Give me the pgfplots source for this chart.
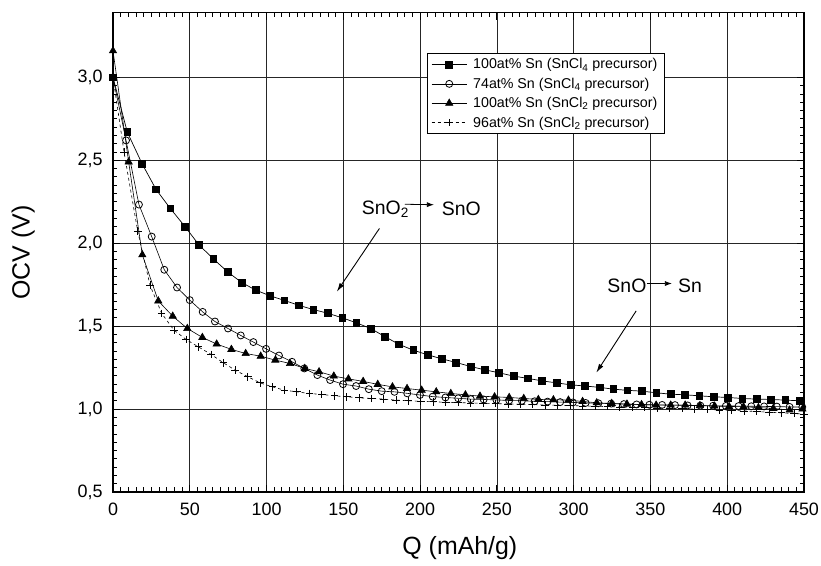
\documentclass[border=0pt]{standalone}
\usepackage{fontspec}
\setmainfont{Liberation Sans}
\usepackage{pgfplots}
\pgfplotsset{compat=1.18}
\usetikzlibrary{arrows.meta}

\begin{document}
\begin{tikzpicture}
\begin{axis}[
  scale only axis,
  width=691bp, height=479.3bp,
  xmin=0, xmax=450, ymin=0.5, ymax=3.39,
  xtick={0,50,...,450},
  ytick={0.5,1.0,...,3.0},
  minor x tick num=9,
  minor y tick num=9,
  tick align=inside,
  major tick length=7bp,
  minor tick length=4.5bp,
  tick style={black, line width=1.1bp},
  minor tick style={black, line width=0.9bp},
  xtick pos=both, ytick pos=both,
  axis line style={black, line width=1.6bp},
  grid=major,
  major grid style={black!85, line width=0.6bp},
  /pgf/number format/assume math mode=true,
  yticklabel style={/pgf/number format/use comma, /pgf/number format/fixed, /pgf/number format/fixed zerofill, /pgf/number format/precision=1, xshift=-7bp},
  ticklabel style={font=\fontsize{18}{20}\selectfont},
  xticklabel style={yshift=-7bp},
  xlabel={Q (mAh/g)},
  ylabel={OCV (V)},
  label style={font=\fontsize{25}{28}\selectfont},
  xlabel style={at={(axis description cs:0.502,-0.117)}, anchor=center},
  ylabel style={at={(axis description cs:-0.130,0.5)}, anchor=center},
  legend style={at={(axis description cs:0.454,0.916)}, anchor=north west,
    draw=black, line width=1.2bp, fill=white,
    font=\fontsize{14.3}{16}\selectfont, row sep=3.6bp, column sep=3bp,
    inner xsep=4bp, inner ysep=3bp,
    nodes={inner xsep=3bp}},
  legend cell align=left,
  legend image code/.code={%
    \draw[mark repeat=2,mark phase=2] plot coordinates {(0.05cm,0cm) (0.67cm,0cm) (1.29cm,0cm)};},
]
\addplot[black, line width=0.7bp, mark=square*, mark size=3.4bp, mark options={solid, fill=black}] coordinates {
(0,3.00) (9.3,2.67) (18.9,2.48) (28,2.325) (37.3,2.21) (46.9,2.10) (56,1.99) (65.4,1.905)
(74.7,1.827) (83.8,1.763) (93,1.717) (102.3,1.683) (111.6,1.655) (121.2,1.625) (130.5,1.60)
(139.8,1.578) (149.4,1.55) (158.5,1.52) (167.8,1.486) (177.2,1.436) (186.3,1.39) (195.6,1.355)
(205,1.327) (214.1,1.303) (223.4,1.281) (232.8,1.257) (241.9,1.237) (251.3,1.219) (260.8,1.199)
(270.2,1.185) (279.5,1.17) (288.8,1.158) (298.2,1.146) (307.5,1.139) (316.8,1.131) (325.9,1.12)
(335,1.113) (344.6,1.108) (353.9,1.098) (363.1,1.09) (372.4,1.086) (381.8,1.08) (391.1,1.074)
(400.4,1.07) (409.8,1.064) (419.3,1.06) (428.5,1.058) (437.8,1.054) (447.1,1.05)
};
\addlegendentry{100at\% Sn (SnCl\textsubscript{4} precursor)}
\addplot[black, line width=0.6bp, mark=o, mark size=3.5bp, mark options={solid, fill=white, line width=0.8bp}] coordinates {
(0,3.00) (8.5,2.62) (16.9,2.233) (25.2,2.04) (33.4,1.84) (41.7,1.733) (50,1.657) (58.4,1.586)
(66.4,1.528) (74.9,1.486) (83.2,1.444) (91.4,1.404) (99.7,1.363) (108.1,1.323) (116.6,1.285)
(124.6,1.245) (133.1,1.205) (141.4,1.175) (149.8,1.15) (158.3,1.139) (166.6,1.12) (175,1.108)
(183.3,1.104) (191.6,1.095) (199.9,1.085) (208.2,1.075) (216.5,1.07) (224.8,1.065) (233,1.06)
(241.4,1.058) (249.7,1.055) (258,1.052) (266.3,1.05) (274.6,1.047) (283,1.045) (291.2,1.042)
(299.5,1.04) (307.8,1.037) (316.1,1.035) (324.4,1.033) (332.7,1.03) (341,1.028) (349.3,1.026)
(357.6,1.025) (366,1.024) (374.2,1.022) (382.5,1.021) (390.8,1.02) (399.1,1.019) (407.4,1.018)
(415.7,1.017) (424,1.016) (432.3,1.015) (440.6,1.013) (448.9,1.012)
};
\addlegendentry{74at\% Sn (SnCl\textsubscript{4} precursor)}
\addplot[black, line width=0.6bp, mark=triangle*, mark size=4.2bp, mark options={solid, fill=black}] coordinates {
(0,3.16) (10.2,2.49) (19.1,1.93) (29.5,1.652) (38.9,1.56) (48.4,1.486) (58.2,1.432) (67.5,1.392)
(77.1,1.36) (86.4,1.335) (96.2,1.319) (105.7,1.295) (115.3,1.275) (124.9,1.245) (134.2,1.225)
(143.8,1.199) (153.3,1.182) (162.9,1.167) (172.4,1.149) (182,1.134) (191.5,1.124) (201,1.114)
(210.5,1.104) (220,1.094) (229.5,1.086) (239,1.078) (248.5,1.074) (258,1.07) (267.5,1.064)
(277,1.058) (286.8,1.056) (296.6,1.054) (305.8,1.046) (315,1.038) (324.8,1.034) (334.7,1.03)
(344.2,1.027) (353.7,1.024) (363.2,1.024) (372.6,1.024) (382.2,1.021) (391.7,1.018) (401.2,1.016)
(410.6,1.014) (420.3,1.009) (430,1.004) (440.6,0.994) (449,1.00)
};
\addlegendentry{100at\% Sn (SnCl\textsubscript{2} precursor)}
\addplot[black, line width=0.6bp, dashed, mark=+, mark size=3.8bp, mark options={solid, line width=0.8bp}] coordinates {
(0,3.00) (7.2,2.55) (16.1,2.072) (24.1,1.747) (31.7,1.577) (39.7,1.476) (47.6,1.42) (55.6,1.375)
(63.8,1.33) (71.9,1.279) (79.5,1.235) (87.8,1.195) (95.8,1.158) (103.8,1.134) (111.6,1.114)
(119.7,1.104) (127.9,1.094) (136,1.088) (144.2,1.08) (152.2,1.074) (160.3,1.068) (168.5,1.064)
(176.1,1.06) (184.4,1.054) (192.4,1.05) (200.5,1.047) (208.6,1.044) (216.7,1.041) (224.8,1.039)
(232.9,1.037) (241,1.035) (249.1,1.033) (257.2,1.031) (265.3,1.029) (273.4,1.027) (281.5,1.025)
(289.6,1.023) (297.7,1.021) (305.8,1.019) (313.9,1.017) (322,1.015) (330.1,1.013) (338.2,1.011)
(346.3,1.009) (354.4,1.007) (362.5,1.005) (370.6,1.003) (378.7,1.0) (386.8,0.998) (394.9,0.995)
(403,0.992) (411.1,0.989) (419.2,0.985) (427.3,0.981) (435.4,0.977) (443.5,0.973) (450,0.97)
};
\addlegendentry{96at\% Sn (SnCl\textsubscript{2} precursor)}

% annotations
\node[anchor=west, inner sep=0pt, font=\fontsize{19.5}{22}\selectfont] at (axis cs:162,2.205) {SnO\textsubscript{2}};
\draw[-{Latex[length=7bp,width=5bp]}, line width=0.8bp] (axis cs:190,2.235) -- (axis cs:209,2.232);
\node[anchor=west, inner sep=0pt, font=\fontsize{19.5}{22}\selectfont] at (axis cs:214,2.205) {SnO};
\draw[-{Latex[length=9bp,width=5bp]}, line width=0.9bp] (axis cs:173.5,2.089) -- (axis cs:145.7,1.707);
\node[anchor=west, inner sep=0pt, font=\fontsize{19.5}{22}\selectfont] at (axis cs:321.9,1.741) {SnO};
\draw[-{Latex[length=7bp,width=5bp]}, line width=0.8bp] (axis cs:347.7,1.757) -- (axis cs:364,1.757);
\node[anchor=west, inner sep=0pt, font=\fontsize{19.5}{22}\selectfont] at (axis cs:367.9,1.741) {Sn};
\draw[-{Latex[length=9bp,width=5bp]}, line width=0.9bp] (axis cs:340.7,1.592) -- (axis cs:314.7,1.219);
\end{axis}
\pgfresetboundingbox
\path[use as bounding box] ([shift={(-113bp,-74bp)}]current axis.south west) rectangle ([shift={(17bp,12.7bp)}]current axis.north east);
\end{tikzpicture}
\end{document}
